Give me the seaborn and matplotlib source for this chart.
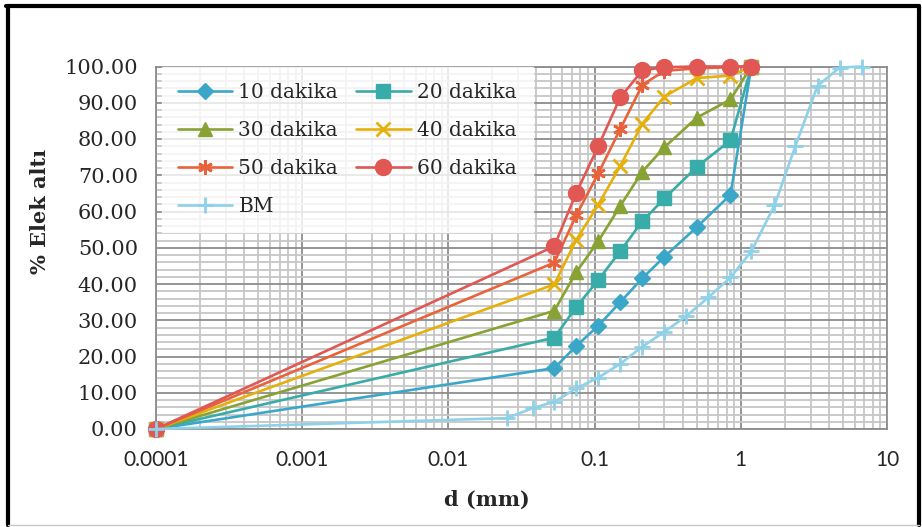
import pandas as pd
import seaborn as sns
import matplotlib.pyplot as plt
from matplotlib.lines import Line2D
from matplotlib.ticker import FixedLocator, FixedFormatter, MultipleLocator, LogLocator, NullFormatter

# elek açıklıkları (mm) ve elekten geçen yüzdeler
d_sieve = [0.0001, 0.053, 0.075, 0.106, 0.15, 0.212, 0.3, 0.5, 0.85, 1.18]
p_10 = [0, 16.8, 22.9, 28.5, 35.0, 41.6, 47.5, 55.7, 64.6, 100]
p_20 = [0, 25.2, 33.7, 41.1, 49.1, 57.3, 63.6, 72.3, 79.6, 100]
p_30 = [0, 32.6, 43.3, 51.8, 61.6, 71.0, 77.7, 85.9, 90.9, 100]
p_40 = [0, 39.9, 52.2, 61.9, 72.6, 84.2, 91.7, 96.8, 97.5, 100]
p_50 = [0, 45.9, 59.0, 70.5, 82.8, 94.9, 98.8, 99.5, 99.8, 100]
p_60 = [0, 50.4, 65.2, 78.0, 91.5, 98.9, 99.8, 100, 100, 100]

# BM (başlangıç malzemesi)
d_bm = [0.0001, 0.025, 0.038, 0.053, 0.075, 0.106, 0.15, 0.212, 0.3, 0.425,
        0.6, 0.85, 1.18, 1.7, 2.36, 3.35, 4.75, 6.7]
p_bm = [0, 3.0, 5.8, 7.5, 11.2, 14.2, 18.0, 22.7, 26.8, 31.2,
        36.3, 41.8, 49.0, 61.7, 78.0, 94.7, 99.7, 100]

labels = ["10 dakika", "20 dakika", "30 dakika", "40 dakika", "50 dakika", "60 dakika", "BM"]
x_ticks = [0.0001, 0.001, 0.01, 0.1, 1, 10]
x_tick_labels = ["0.0001", "0.001", "0.01", "0.1", "1", "10"]

# stil: renk, marker, boyut
styles = [
    ("#3aa7c9", "D", 8.5, 1.0),
    ("#38aca8", "s", 9.5, 1.0),
    ("#88a234", "^", 10.5, 1.0),
    ("#e6b00a", "x", 9.5, 2.0),
    ("#e8633b", (6, 2, 0), 10.5, 2.0),
    ("#e05753", "o", 11.5, 1.0),
    ("#8ed1e8", "+", 11.0, 2.0),
]

series = [(d_sieve, p_10), (d_sieve, p_20), (d_sieve, p_30), (d_sieve, p_40),
          (d_sieve, p_50), (d_sieve, p_60), (d_bm, p_bm)]

sns.set_style("white")
plt.rcParams['font.family'] = ['DejaVu Serif']

fig = plt.figure(figsize=(9.22, 5.27), dpi=100)
ax = fig.add_axes([156 / 922, 1 - 429 / 527, 731 / 922, 362.5 / 527])

handles = []
for (xs, ys), lab, (col, mk, ms, mew) in zip(series, labels, styles):
    df = pd.DataFrame({"d": xs, "p": ys})
    sns.lineplot(data=df, x="d", y="p", ax=ax, color=col, marker=mk, markersize=ms,
                 markeredgewidth=mew, markeredgecolor=col, linewidth=1.9,
                 label=lab, clip_on=False, zorder=3, legend=False)
    handles.append(Line2D([], [], color=col, marker=mk, markersize=ms,
                          markeredgewidth=mew, markeredgecolor=col, linewidth=1.9))

ax.set_xscale("log")
ax.set_xlim(0.0001, 10)
ax.set_ylim(0, 100)

ax.xaxis.set_major_locator(FixedLocator(x_ticks))
ax.xaxis.set_major_formatter(FixedFormatter(x_tick_labels))
ax.xaxis.set_minor_locator(LogLocator(base=10, subs=range(2, 10)))
ax.xaxis.set_minor_formatter(NullFormatter())
ax.yaxis.set_major_locator(MultipleLocator(10))
ax.yaxis.set_minor_locator(MultipleLocator(2))
ax.yaxis.set_major_formatter(plt.FuncFormatter(lambda v, p: f"{v:.2f}"))

ax.grid(which="minor", color="#c6c6c6", linewidth=1.3, zorder=0)
ax.grid(which="major", color="#8c8c8c", linewidth=1.3, zorder=1)
ax.set_axisbelow(True)
for s in ax.spines.values():
    s.set_color("#8c8c8c")
    s.set_linewidth(1.3)

ax.tick_params(axis="both", which="major", direction="out", length=5, width=1.3, color="#8c8c8c")
ax.tick_params(axis="both", which="minor", direction="out", length=0)
ax.tick_params(axis="y", labelsize=15, pad=8)
ax.tick_params(axis="x", labelsize=15, pad=10)
for t in ax.get_xticklabels():
    t.set_fontfamily("Lato")

ax.set_xlabel("d (mm)", fontsize=15, fontweight="bold")
ax.set_ylabel("% Elek altı", fontsize=15, fontweight="bold")
ax.xaxis.set_label_coords(0.453, -0.168)
ax.yaxis.set_label_coords(-0.145, 0.6)

# lejant: satır sırası 10,20 / 30,40 / 50,60 / BM
order = [0, 2, 4, 6, 1, 3, 5]
leg = ax.legend([handles[i] for i in order], [labels[i] for i in order], ncol=2,
                loc="upper left", bbox_to_anchor=(0.008, 1.0), borderaxespad=0,
                fontsize=14.5, frameon=True, fancybox=False, handlelength=2.7,
                handletextpad=0.3, columnspacing=0.9, labelspacing=0.95, borderpad=0.8)
leg.get_frame().set_facecolor("white")
leg.get_frame().set_edgecolor("white")
leg.set_zorder(5)

# dış çerçeve
fig.add_artist(Line2D([0.0087, 0.0087], [0.003, 0.9877], color="black", linewidth=3, transform=fig.transFigure))
fig.add_artist(Line2D([0.0065, 0.9967], [0.9877, 0.9877], color="black", linewidth=3, transform=fig.transFigure))
fig.add_artist(Line2D([0.9967, 0.9967], [0.003, 0.9877], color="black", linewidth=3, transform=fig.transFigure))
fig.add_artist(Line2D([0.0087, 0.9967], [0.004, 0.004], color="#c8c8c8", linewidth=1, transform=fig.transFigure))

fig.savefig("out.png", dpi=100)
